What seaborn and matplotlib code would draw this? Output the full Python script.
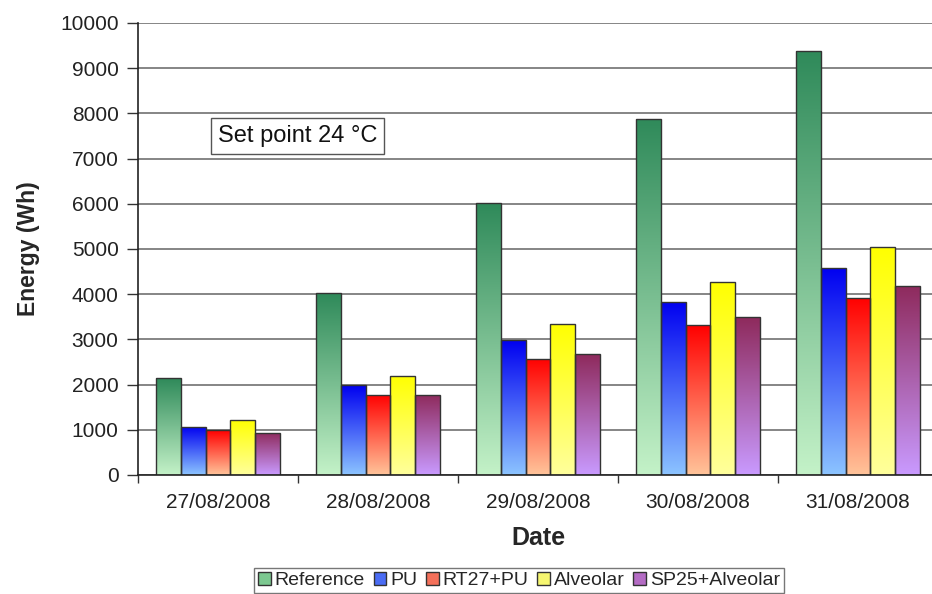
import numpy as np
import pandas as pd
import matplotlib
matplotlib.use("Agg")
import matplotlib.pyplot as plt
from matplotlib.patches import Patch
from matplotlib.colors import to_rgb
import seaborn as sns

# Daily cooling energy per cubicle construction
dates = ["27/08/2008", "28/08/2008", "29/08/2008", "30/08/2008", "31/08/2008"]
systems = ["Reference", "PU", "RT27+PU", "Alveolar", "SP25+Alveolar"]
reference = [2140, 4020, 6010, 7880, 9380]
pu = [1070, 1990, 2980, 3830, 4590]
rt27_pu = [985, 1780, 2570, 3310, 3920]
alveolar = [1220, 2200, 3350, 4280, 5050]
sp25_alveolar = [935, 1780, 2670, 3490, 4190]

series = [reference, pu, rt27_pu, alveolar, sp25_alveolar]
df = pd.DataFrame(
    [(d, s, v) for s, vals in zip(systems, series) for d, v in zip(dates, vals)],
    columns=["Date", "System", "Energy"],
)

# vertical gradient (top colour, bottom colour) for each series
gradients = {
    "Reference": ("#2f8a5a", "#c4f2c8"),
    "PU": ("#0000f0", "#8cc4ff"),
    "RT27+PU": ("#ff0000", "#ffc49a"),
    "Alveolar": ("#ffff00", "#ffff9c"),
    "SP25+Alveolar": ("#8e2a5c", "#c99aff"),
}
legend_colors = {
    "Reference": "#7cc890",
    "PU": "#4a6cf4",
    "RT27+PU": "#f4705a",
    "Alveolar": "#f6f670",
    "SP25+Alveolar": "#b46cc4",
}

sns.set_theme(style="white")
plt.rcParams["font.family"] = ["Liberation Sans", "DejaVu Sans"]

fig = plt.figure(figsize=(9.32, 5.94), dpi=100)
ax = fig.add_axes([138 / 932, 119 / 594, 800 / 932, 452 / 594])

sns.barplot(
    data=df, x="Date", y="Energy", hue="System", hue_order=systems,
    order=dates, width=0.77, palette=[gradients[s][0] for s in systems],
    edgecolor="#333333", linewidth=1.0, legend=False, ax=ax, zorder=3,
)

xlim = (-0.5, 4.5)

# paint each bar with its vertical gradient, clipped to the bar outline
for sys_name, container in zip(systems, ax.containers):
    top_c = np.array(to_rgb(gradients[sys_name][0]))
    bot_c = np.array(to_rgb(gradients[sys_name][1]))
    t = np.linspace(0, 1, 256)[:, None]
    img = (top_c * (1 - t) + bot_c * t)[:, None, :]
    for bar in container:
        x0, y0 = bar.get_x(), bar.get_y()
        w, h = bar.get_width(), bar.get_height()
        im = ax.imshow(img, extent=[x0, x0 + w, y0, y0 + h], aspect="auto",
                       origin="upper", zorder=3.5, interpolation="bilinear")
        im.set_clip_path(bar)
        bar.set_facecolor("none")
        bar.set_zorder(4)

ax.set_xlim(*xlim)
ax.set_ylim(0, 10000)

# horizontal gridlines
ax.set_yticks(np.arange(0, 10001, 1000))
ax.yaxis.grid(True, color="#858585", linewidth=1.4, zorder=0)
ax.set_axisbelow(True)

# category ticks between groups, labels centred under groups
ax.set_xticks(np.arange(-0.5, 5.0, 1.0))
ax.set_xticklabels([])
ax.set_xticks(np.arange(5), minor=True)
ax.set_xticklabels(dates, minor=True, fontsize=15, color="#222222")
ax.tick_params(axis="x", which="major", direction="out", length=6, width=1,
               color="#333333", bottom=True)
ax.tick_params(axis="x", which="minor", length=0, pad=13)
ax.tick_params(axis="y", direction="out", length=8, width=1, color="#333333",
               left=True, labelsize=15, labelcolor="#222222", pad=6)

for side in ["top", "right"]:
    ax.spines[side].set_visible(False)
for side in ["left", "bottom"]:
    ax.spines[side].set_color("#222222")
    ax.spines[side].set_linewidth(1.2)
    ax.spines[side].set_zorder(5)

ax.set_xlabel("Date", fontsize=18, fontweight="bold", labelpad=10)
ax.set_ylabel("Energy (Wh)", fontsize=16.5, fontweight="bold", labelpad=14)

ax.text(0.0, 7500, "Set point 24 \u00b0C", fontsize=17, color="#111111",
        va="center", ha="left", zorder=6,
        bbox=dict(boxstyle="square,pad=0.3", facecolor="white",
                  edgecolor="#555555", linewidth=1.0))

handles = [Patch(facecolor=legend_colors[s], edgecolor="#333333", linewidth=1.0,
                 label=s) for s in systems]
leg = fig.legend(handles=handles, loc="upper center", ncol=5,
                 bbox_to_anchor=(519 / 932, 1 - 568 / 594),
                 fontsize=14, frameon=True, fancybox=False,
                 handlelength=0.65, handleheight=0.65, handletextpad=0.2,
                 columnspacing=0.45, borderpad=0.2, borderaxespad=0)
leg.get_frame().set_edgecolor("#555555")
leg.get_frame().set_linewidth(1.0)

fig.savefig("out.png", dpi=100)
